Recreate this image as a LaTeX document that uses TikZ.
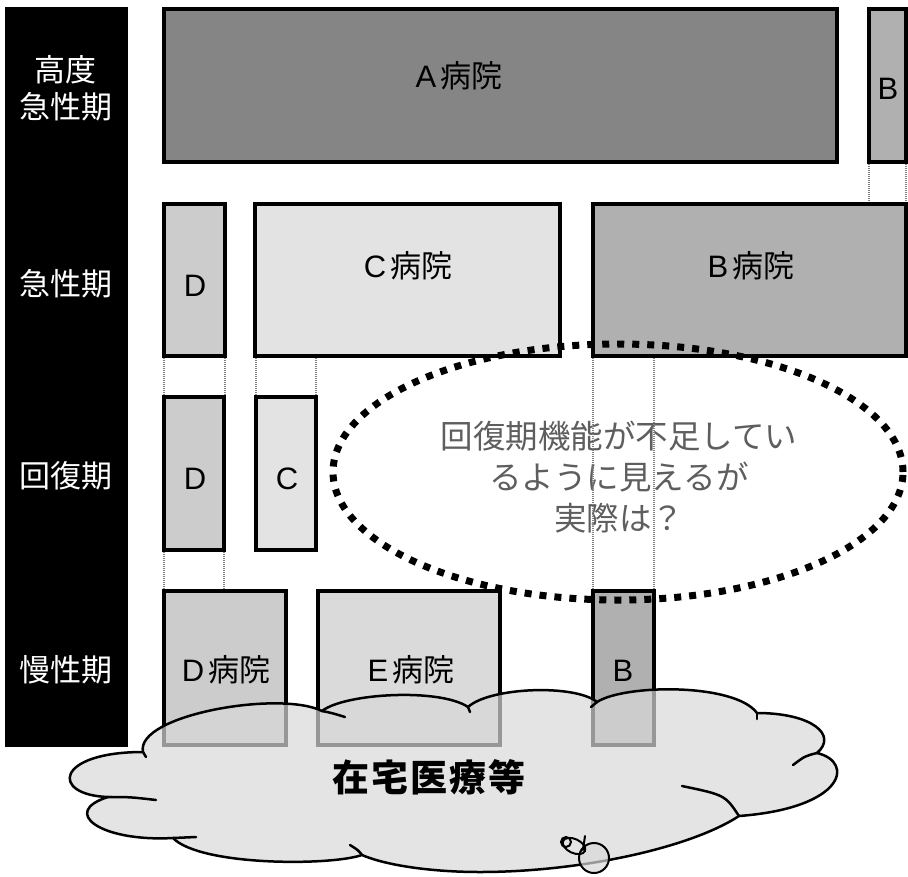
\documentclass[tikz,border=0pt]{standalone}
\usepackage{fontspec}
\setmainfont{Noto Sans CJK JP}
\newfontfamily\lat{Liberation Sans}
\usetikzlibrary{shapes.geometric}
\definecolor{cA}{HTML}{858585}
\definecolor{cB}{HTML}{B0B0B0}
\definecolor{cD}{HTML}{CCCCCC}
\definecolor{cC}{HTML}{E3E3E3}
\definecolor{cE}{HTML}{DADADA}
\definecolor{cQ}{HTML}{5E5E5E}
\definecolor{cCloud}{HTML}{D8D8D8}
\newcommand{\hosp}[1]{{\lat #1}\hspace{4pt}病院}
\begin{document}
\begin{tikzpicture}[x=1pt,y=-1pt,
  box/.style={draw=black, line width=4pt, rectangle, inner sep=0pt, outer sep=0pt},
  lbl/.style={inner sep=0pt, font=\fontsize{31}{36}\selectfont},
  side/.style={inner sep=0pt, text=white, align=center, font=\fontsize{31}{37}\selectfont},
  conn/.style={draw=gray, line width=1.3pt, dash pattern=on 1pt off 1pt, shorten <=2pt, shorten >=2pt},
  cloudline/.style={draw=black, line width=2.5pt, line cap=round}]
\useasboundingbox (0,0) rectangle (908,876);

% stage bar
\node[fill=black, inner sep=0pt, outer sep=0pt, minimum width=123pt, minimum height=740pt] (bar) at (66.5,377) {};
\node[side] (s1) at (66,88) {高度\\急性期};
\node[side] (s2) at (66,284) {急性期};
\node[side] (s3) at (66,476) {回復期};
\node[side] (s4) at (66,670) {慢性期};

% hospital boxes
\node[box, fill=cA, minimum width=673pt, minimum height=153pt] (A) at (500.5,85.5) {};
\node[box, fill=cB, minimum width=37pt, minimum height=153pt] (Bhi) at (887.5,85.5) {};
\node[box, fill=cD, minimum width=61pt, minimum height=152pt] (Dac) at (194.5,280) {};
\node[box, fill=cC, minimum width=305pt, minimum height=152pt] (Cbig) at (407.5,280) {};
\node[box, fill=cB, minimum width=313pt, minimum height=152pt] (Bbig) at (749.5,280) {};
\node[box, fill=cD, minimum width=60pt, minimum height=153pt] (Drec) at (194,473.5) {};
\node[box, fill=cC, minimum width=60pt, minimum height=153pt] (Crec) at (286,473.5) {};
\node[box, fill=cD, minimum width=122pt, minimum height=154pt] (Dchr) at (225,668) {};
\node[box, fill=cE, minimum width=182pt, minimum height=154pt] (Echr) at (409,668) {};
\node[box, fill=cB, minimum width=61pt, minimum height=154pt] (Bchr) at (623.5,668) {};

% box labels
\node[lbl] (tA) at (459,76) {\hosp{A}};
\node[lbl] (tBhi) at (888,89) {\lat B};
\node[lbl] (tDac) at (195,286) {\lat D};
\node[lbl] (tC) at (408,266) {\hosp{C}};
\node[lbl] (tB) at (751,266) {\hosp{B}};
\node[lbl] (tDrec) at (195,479) {\lat D};
\node[lbl] (tCrec) at (287,479) {\lat C};
\node[lbl] (tD) at (226,670) {\hosp{D}};
\node[lbl] (tE) at (411,670) {\hosp{E}};
\node[lbl] (tBchr) at (623,671) {\lat B};

% question text
\node[inner sep=0pt, text=cQ, align=center, font=\fontsize{32.5}{41}\selectfont] (q) at (619,477)
  {回復期機能が不足してい\\るように見えるが\\実際は？};

% thin dotted connectors
\draw[conn] (Bhi.south west) -- (Bhi.south west |- Bbig.north);
\draw[conn] (Bhi.south east) -- (Bhi.south east |- Bbig.north);
\draw[conn] (Dac.south west) -- (Drec.north west);
\draw[conn] (Dac.south east) -- (Dac.south east |- Drec.north);
\draw[conn] (Crec.north west |- Cbig.south) -- (Crec.north west);
\draw[conn] (Crec.north east |- Cbig.south) -- (Crec.north east);
\draw[conn] (Drec.south west) -- (Dchr.north west);
\draw[conn] (Drec.south east) -- (Drec.south east |- Dchr.north);
\draw[conn] (Bbig.south west) -- (Bchr.north west);
\draw[conn] (Bchr.north east |- Bbig.south) -- (Bchr.north east);

% dotted ellipse
\node[ellipse, draw=black, line width=7pt, dash pattern=on 7pt off 8pt, inner sep=0pt,
      minimum width=570pt, minimum height=256pt] (ell) at (618,472) {};

% cloud
\path[fill=cCloud, fill opacity=0.7]
  (143,752) .. controls (135,715) and (280,690) .. (322,711)
  .. controls (345,693) and (440,688) .. (468,707)
  .. controls (490,687) and (575,684) .. (597,702)
  .. controls (625,684) and (735,683) .. (757,713)
  .. controls (812,713) and (838,735) .. (817,753)
  .. controls (855,762) and (845,808) .. (739,816)
  .. controls (690,848) and (580,872) .. (480,872)
  .. controls (430,872) and (385,865) .. (362,855)
  .. controls (330,866) and (200,866) .. (173,838)
  .. controls (100,842) and (60,812) .. (108,797)
  .. controls (50,795) and (55,752) .. (143,752) -- cycle;
\draw[cloudline]
  (143,752) .. controls (135,715) and (280,690) .. (322,711)
  .. controls (345,693) and (440,688) .. (468,707)
  .. controls (490,687) and (575,684) .. (597,702)
  .. controls (625,684) and (735,683) .. (757,713)
  .. controls (812,713) and (838,735) .. (817,753)
  .. controls (855,762) and (845,808) .. (739,816)
  .. controls (690,848) and (580,872) .. (480,872)
  .. controls (430,872) and (385,865) .. (362,855)
  .. controls (330,866) and (200,866) .. (173,838)
  .. controls (100,842) and (60,812) .. (108,797)
  .. controls (50,795) and (55,752) .. (143,752) -- cycle;
% inner lobe strokes
\draw[cloudline] (322,711) .. controls (332,713) .. (345,717);
\draw[cloudline] (468,707) -- (470,712);
\draw[cloudline] (597,702) -- (591,707);
\draw[cloudline] (757,713) -- (757,719);
\draw[cloudline] (817,753) .. controls (805,756) .. (793,765);
\draw[cloudline] (739,816) .. controls (725,795) .. (682,786);
\draw[cloudline] (362,855) .. controls (358,850) .. (350,845);
\draw[cloudline] (173,838) .. controls (185,837) .. (196,837);
\draw[cloudline] (108,797) .. controls (130,797) .. (156,800);
\draw[cloudline] (143,752) -- (146,757);
% callout tail
\draw[cloudline, line width=2pt, fill=cCloud, fill opacity=0.7] (594,858) circle[radius=15pt];
\draw[cloudline, line width=2pt] (574,846) ellipse[x radius=12pt, y radius=7pt, rotate=-25];
\draw[cloudline, line width=2pt] (566,842) circle[radius=5pt];
\draw[cloudline, line width=2pt] (585,836) -- (583,850);

\node[inner sep=0pt, font=\fontsize{37}{42}\selectfont\bfseries] (home) at (429,777)
  {在\kern2pt 宅\kern2pt 医\kern2pt 療\kern2pt 等};
\end{tikzpicture}
\end{document}
